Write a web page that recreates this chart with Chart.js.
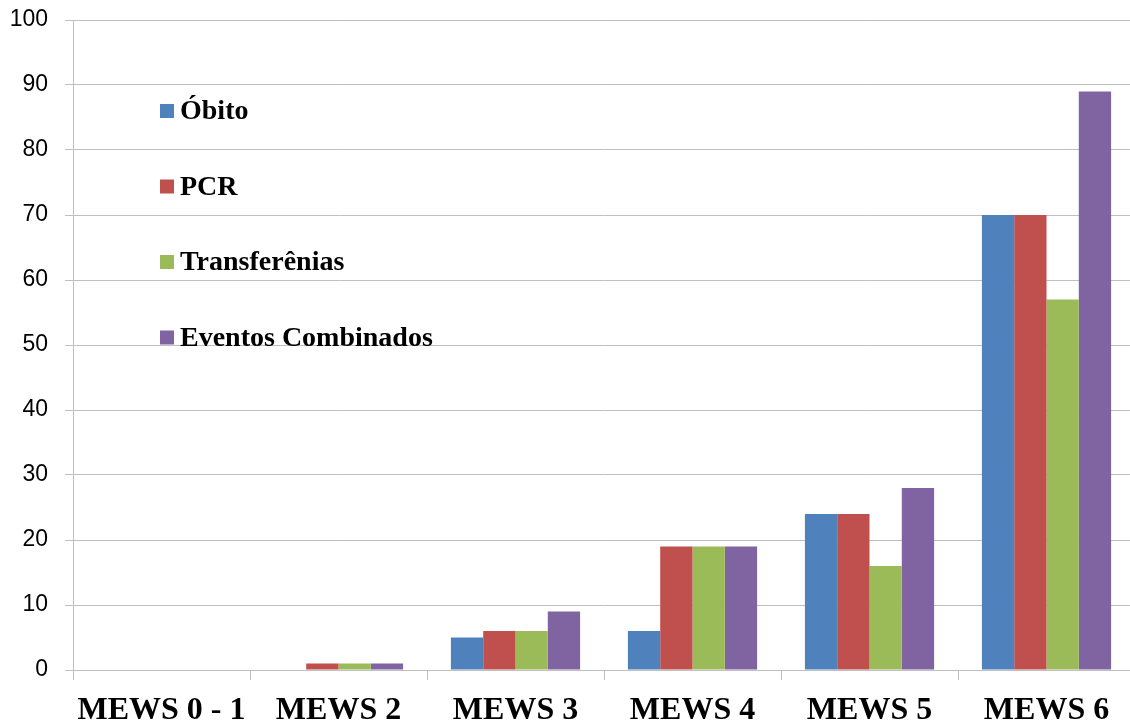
<!DOCTYPE html>
<html>
<head>
<meta charset="utf-8">
<script src="https://cdn.jsdelivr.net/npm/chart.js@4"></script>
<style>
  html, body { margin: 0; padding: 0; background: #fff; overflow: hidden; }
  #wrap { width: 1130px; height: 722px; overflow: hidden; }
</style>
</head>
<body>
<div id="wrap"><canvas id="mews" width="1140" height="722"></canvas></div>
<script>
// categories and values
var categories = ['MEWS 0 - 1', 'MEWS 2', 'MEWS 3', 'MEWS 4', 'MEWS 5', 'MEWS 6'];
var obito = [0, 0, 5, 6, 24, 70];
var pcr = [0, 1, 6, 19, 24, 70];
var transferencias = [0, 1, 6, 19, 16, 57];
var eventosCombinados = [0, 1, 9, 19, 28, 89];
var yTicks = [0, 10, 20, 30, 40, 50, 60, 70, 80, 90, 100];

var gridGray = '#BFBFBF';

// legend drawn inside the plot area, like the original
var insideLegend = {
  id: 'insideLegend',
  afterDraw: function (chart) {
    var ctx = chart.ctx;
    var area = chart.chartArea;
    var x = area.left + 87;
    var y = area.top + 91;
    ctx.save();
    ctx.font = 'bold 28px "Liberation Serif", "Times New Roman", serif';
    ctx.textBaseline = 'middle';
    chart.data.datasets.forEach(function (ds, i) {
      var cy = y + i * 75.5;
      ctx.fillStyle = ds.backgroundColor;
      ctx.fillRect(x, cy - 7, 14, 14);
      ctx.fillStyle = '#000';
      ctx.fillText(ds.label, x + 20, cy + 1);
    });
    ctx.restore();
  }
};

var ctx = document.getElementById('mews');
var chart = new Chart(ctx, {
  type: 'bar',
  data: {
    labels: categories,
    datasets: [{
      label: 'Óbito',
      data: obito,
      backgroundColor: '#4F81BD'
    }, {
      label: 'PCR',
      data: pcr,
      backgroundColor: '#C0504D'
    }, {
      label: 'Transferênias',
      data: transferencias,
      backgroundColor: '#9BBB59'
    }, {
      label: 'Eventos Combinados',
      data: eventosCombinados,
      backgroundColor: '#8064A2'
    }]
  },
  options: {
    responsive: false,
    animation: false,
    layout: { padding: { left: 9, right: 5, top: 20, bottom: 0 } },
    datasets: {
      bar: { categoryPercentage: 0.73, barPercentage: 1.0, borderWidth: 0 }
    },
    plugins: {
      legend: { display: false },
      tooltip: { enabled: false }
    },
    scales: {
      x: {
        afterFit: function (scale) {
          scale.paddingLeft = 0;
          scale.paddingRight = 0;
          scale.height = 52;
        },
        grid: {
          display: true,
          drawOnChartArea: false,
          drawTicks: true,
          tickLength: 10,
          color: gridGray,
          offset: true
        },
        border: { color: gridGray, width: 1 },
        ticks: {
          color: '#000',
          padding: 13,
          maxRotation: 0,
          font: { family: '"Liberation Serif", "Times New Roman", serif', size: 32, weight: 'bold', lineHeight: 1.1 }
        }
      },
      y: {
        min: 0,
        max: 100,
        afterFit: function (scale) {
          scale.paddingTop = 0;
          scale.paddingBottom = 0;
          scale.width = 64;
        },
        afterBuildTicks: function (axis) {
          axis.ticks = yTicks.map(function (v) { return { value: v }; });
        },
        grid: {
          color: gridGray,
          lineWidth: 1,
          drawTicks: true,
          tickLength: 8
        },
        border: { color: gridGray, width: 1 },
        ticks: {
          color: '#000',
          padding: 17,
          font: { family: '"Liberation Sans", Arial, sans-serif', size: 23 }
        }
      }
    }
  },
  plugins: [insideLegend]
});
</script>
</body>
</html>
